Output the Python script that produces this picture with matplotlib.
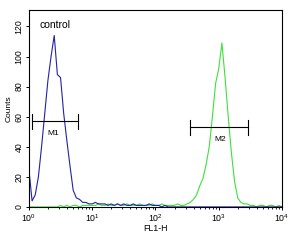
import numpy as np
import matplotlib
matplotlib.use("Agg")
import matplotlib.pyplot as plt

plt.rcParams['font.family'] = ['Liberation Sans', 'DejaVu Sans']

# log10 of FL1-H channel, step 0.05 decade
log_fl = [i * 0.05 for i in range(81)]

control_counts = [25, 4, 8, 20, 40, 62, 84, 100, 114, 88,
                  86, 62, 44, 27, 11, 6, 5, 3, 3, 2,
                  2, 3, 2, 2, 2, 1, 2, 1, 2, 1,
                  2, 1, 1, 2, 1, 1, 1, 1, 2, 1,
                  1, 1, 0, 1, 0, 0, 0, 0, 0, 0,
                  0, 0, 0, 0, 0, 0, 0, 0, 0, 0,
                  0, 0, 0, 0, 0, 0, 0, 0, 0, 0,
                  0, 0, 0, 0, 0, 0, 0, 0, 0, 0, 0]

sample_counts = [0, 0, 0, 0, 0, 0, 0, 0, 0, 0,
                 1, 0, 1, 0, 1, 1, 0, 1, 1, 1,
                 1, 1, 2, 1, 1, 2, 1, 1, 2, 1,
                 1, 2, 1, 1, 1, 2, 1, 1, 1, 2,
                 1, 1, 2, 1, 1, 1, 1, 2, 1, 1,
                 2, 3, 5, 8, 14, 19, 28, 40, 60, 82,
                 92, 109, 86, 60, 36, 17, 6, 3, 2, 2,
                 1, 1, 0, 1, 1, 0, 1, 1, 0, 1, 0]

# gates: (name, start, end, height, label position)
gates = [("M1", 1.1, 6.0, 57, 2.4, 49),
         ("M2", 350, 2900, 53, 1050, 45)]

fl = [10 ** v for v in log_fl]

fig = plt.figure(figsize=(2.95, 2.42), dpi=100)
ax = fig.add_axes([0.098, 0.145, 0.858, 0.814])

ax.plot(fl, sample_counts, color='#3de03d', lw=0.8)
ax.plot(fl, control_counts, color='#2222a8', lw=0.8)

for name, x0, x1, y, lx, ly in gates:
    ax.plot([x0, x1], [y, y], color='black', lw=0.8)
    ax.plot([x0, x0], [y - 5, y + 5], color='black', lw=0.8)
    ax.plot([x1, x1], [y - 5, y + 5], color='black', lw=0.8)
    ax.text(lx, ly, name, fontsize=6, ha='center', va='center')

ax.text(1.45, 121, "control", fontsize=7.5, ha='left', va='center')

ax.set_xscale('log')
ax.set_xlim(1, 10000)
ax.set_ylim(0, 131)
ax.set_yticks([0, 20, 40, 60, 80, 100, 120])
for lbl in ax.get_yticklabels():
    lbl.set_rotation(90)
    lbl.set_va('center')
ax.tick_params(labelsize=6.3, length=2.5, width=0.7, pad=1.5)
ax.tick_params(which='minor', length=1.5, width=0.6)
ax.set_xlabel("FL1-H", fontsize=6.3, labelpad=0)
ax.set_ylabel("Counts", fontsize=6, labelpad=1)
for s in ax.spines.values():
    s.set_linewidth(0.8)

fig.savefig("out.png", dpi=100)
